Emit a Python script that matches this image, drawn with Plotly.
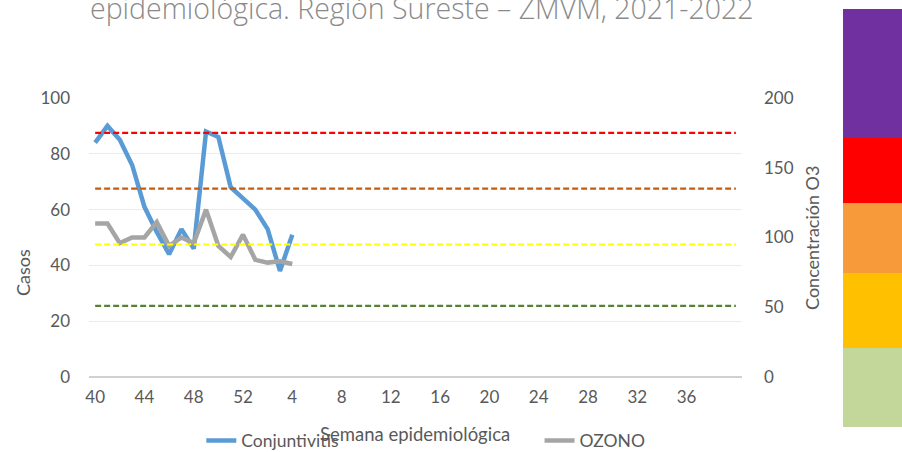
import plotly.graph_objects as go

# Epidemiological weeks: 40-52 of 2021, then 1-40 of 2022
weeks = [str(w) for w in range(40, 53)] + [str(w) for w in range(1, 41)]
tick_labels = ["40", "44", "48", "52", "4", "8", "12", "16", "20", "24", "28", "32", "36"]

# Weekly conjunctivitis cases (left axis) and ozone concentration (right axis)
conjuntivitis = [84, 90, 85, 76, 61, 52, 44, 53, 46, 88, 86, 68, 64, 60, 53, 38, 51]
ozono = [110, 110, 96, 100, 100, 111, 94, 100, 96, 120, 94, 86, 102, 84, 82, 83, 81]

# Ozone air-quality thresholds (ppb) and their line colours
umbrales = [175, 135, 95, 51]
umbral_colores = ["#FF0000", "#C55A11", "#FFFF00", "#548235"]

# Colour scale bands, top to bottom
bandas_colores = ["#7030A0", "#FF0000", "#F79A3A", "#FFC000", "#C4D79B"]
bandas_limites = [1.319, 0.857, 0.624, 0.373, 0.104, -0.179]

FONT = "Lato"
GRIS = "#595959"

x_all = list(range(len(weeks)))
x_datos = x_all[:len(conjuntivitis)]
tick_pos = [weeks.index(t) for t in tick_labels]

fig = go.Figure()

fig.add_trace(go.Scatter(
    x=x_datos, y=conjuntivitis, name="Conjuntivitis", mode="lines",
    line=dict(color="#5B9BD5", width=4.5), yaxis="y", legend="legend",
))
fig.add_trace(go.Scatter(
    x=x_datos, y=ozono, name="OZONO", mode="lines",
    line=dict(color="#A5A5A5", width=4.5), yaxis="y2", legend="legend2",
))
for val, col in zip(umbrales, umbral_colores):
    fig.add_trace(go.Scatter(
        x=x_all, y=[val] * len(x_all), mode="lines", showlegend=False,
        line=dict(color=col, width=2.2, dash="6px,3px"), yaxis="y2",
        hoverinfo="skip",
    ))

shapes = []
for i, col in enumerate(bandas_colores):
    shapes.append(dict(
        type="rect", xref="paper", yref="paper",
        x0=1.1547, x1=1.26, y0=bandas_limites[i + 1], y1=bandas_limites[i],
        fillcolor=col, line=dict(width=0), layer="above",
    ))

fig.update_layout(
    width=902, height=452,
    margin=dict(l=89, r=160, t=98, b=75, autoexpand=False),
    paper_bgcolor="white", plot_bgcolor="white",
    font=dict(family=FONT, size=17, color=GRIS),
    shapes=shapes,
    xaxis=dict(
        range=[-0.5, 52.5], tickvals=tick_pos, ticktext=tick_labels,
        showgrid=False, zeroline=False, showline=False, ticks="",
        tickfont=dict(size=17, color=GRIS), ticklabelstandoff=8,
    ),
    yaxis=dict(
        range=[0, 100], dtick=20, showgrid=True, gridcolor="#EBEBEB",
        gridwidth=1, zeroline=True, zerolinecolor="#D0D0D0", zerolinewidth=2,
        showline=False, ticks="", tickfont=dict(size=17, color=GRIS),
        ticklabelstandoff=18,
    ),
    yaxis2=dict(
        range=[0, 200], dtick=50, overlaying="y", side="right",
        showgrid=False, zeroline=False, showline=False, ticks="",
        tickfont=dict(size=17, color=GRIS), ticklabelstandoff=21,
    ),
    legend=dict(
        orientation="h", x=0.172, y=-0.228, xanchor="left", yanchor="middle",
        font=dict(size=17.5, color=GRIS), bgcolor="rgba(0,0,0,0)",
    ),
    legend2=dict(
        orientation="h", x=0.690, y=-0.228, xanchor="left", yanchor="middle",
        font=dict(size=17.5, color=GRIS), bgcolor="rgba(0,0,0,0)",
    ),
    annotations=[
        dict(text="epidemiológica. Región Sureste – ZMVM, 2021-2022",
             xref="paper", yref="paper", x=0.51, y=1.322, showarrow=False,
             xanchor="center", yanchor="middle",
             font=dict(family="Open Sans", size=28.5, color="#8A8A8A", weight=300)),
        dict(text="Semana epidemiológica", xref="paper", yref="paper",
             x=0.4992, y=-0.205, showarrow=False, xanchor="center",
             yanchor="middle", font=dict(size=18.5, color=GRIS)),
        dict(text="Casos", xref="paper", yref="paper", x=-0.101, y=0.373,
             showarrow=False, textangle=-90, xanchor="center",
             yanchor="middle", font=dict(size=18, color=GRIS)),
        dict(text="Concentración O3", xref="paper", yref="paper", x=1.107,
             y=0.498, showarrow=False, textangle=-90, xanchor="center",
             yanchor="middle", font=dict(size=18, color=GRIS)),
    ],
)

fig.write_html("out.html")
